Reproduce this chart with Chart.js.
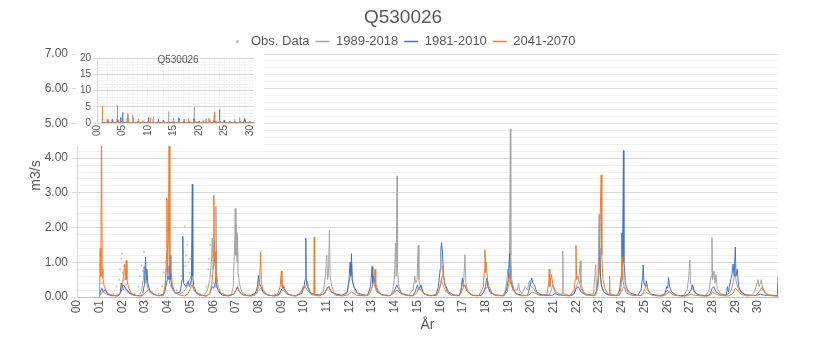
<!DOCTYPE html>
<html>
<head>
<meta charset="utf-8">
<script src="https://cdn.jsdelivr.net/npm/chart.js@4.4.0/dist/chart.umd.min.js"></script>
<style>
  html, body { margin: 0; padding: 0; background: #fff; }
  #wrap { position: relative; width: 815px; height: 338px; }
  #main { position: absolute; left: 0; top: 0; }
  #insetBox { position: absolute; left: 76px; top: 47px; width: 188px; height: 99px; background: #fff; }
  #inset { position: absolute; left: 0; top: 0; }
  #insetTitle { position: absolute; left: 21px; width: 162px; top: 7px; text-align: center;
    font: 10px "Liberation Sans", sans-serif; color: #595959; }
</style>
</head>
<body>
<div id="wrap">
  <canvas id="main" width="815" height="338"></canvas>
  <div id="insetBox">
    <canvas id="inset" width="188" height="99"></canvas>
    <div id="insetTitle">Q530026</div>
  </div>
</div>
<script>
// Daily flow at Q530026 (m3/s), years counted from 00, as [year, value]
const obsData = [
  [1.0,0.9],[1.02,1.2],[1.04,0.6],[1.08,0.4],[1.2,0.2],[1.6,0.1],[1.75,0.3],[1.85,0.5],[1.9,0.8],
  [1.95,1.1],[1.98,1.25],[2.02,0.7],[2.06,0.9],[2.1,0.5],[2.15,0.35],[2.3,0.15],[2.55,0.1],[2.7,0.3],
  [2.78,0.6],[2.85,0.9],[2.9,0.75],[2.95,1.3],[3.0,0.5],[3.1,0.3],[3.3,0.15],[3.6,0.1],[3.75,0.3],
  [3.82,0.7],[3.9,1.0],[3.94,1.3],[4.0,0.8],[4.05,1.1],[4.1,0.6],[4.2,0.3],[4.4,0.2],[4.6,0.6],
  [4.7,1.3],[4.74,2.03],[4.78,0.9],[4.82,1.2],[4.86,1.5],[4.9,1.0],[4.95,0.7],[5.0,1.1],[5.05,0.5],
  [5.15,0.25],[5.4,0.1],[5.7,0.3],[5.78,0.8],[5.82,1.1],[5.88,1.5],[5.92,0.6],[6.0,0.4],[6.1,0.3],[6.3,0.1]
];

const flow1989 = [
  [0.98,0.03],[1.05,0.1],[1.15,0.15],[1.3,0.08],[1.6,0.04],[1.85,0.05],
  [1.92,0.15],[1.98,0.35],[2.03,0.2],[2.1,0.3],[2.2,0.15],[2.4,0.06],[2.75,0.04],
  [2.85,0.2],[2.92,0.5],[2.96,0.9],[3.0,0.4],[3.05,0.5],[3.12,0.25],[3.25,0.1],[3.5,0.05],[3.8,0.05],
  [3.88,0.3],[3.95,1.27],[3.98,0.6],[4.03,0.9],[4.08,0.4],[4.15,0.3],[4.3,0.12],[4.5,0.08],[4.7,0.15],[4.85,0.3],[4.95,0.5],
  [5.03,0.6],[5.08,0.35],[5.15,0.2],[5.3,0.08],[5.6,0.04],
  [5.75,0.2],[5.85,0.5],[5.92,1.0],[5.96,1.7],[6.0,0.8],[6.05,1.6],[6.09,0.9],[6.12,2.6],[6.15,0.7],[6.22,0.3],[6.35,0.12],[6.6,0.05],[6.8,0.06],
  [6.88,0.3],[6.94,1.4],[6.97,2.55],[7.0,1.2],[7.02,2.08],[7.05,1.0],[7.07,1.85],[7.1,0.7],[7.15,0.4],[7.25,0.15],[7.45,0.06],[7.8,0.04],
  [7.9,0.08],[8.0,0.2],[8.08,0.25],[8.2,0.12],[8.4,0.05],[8.8,0.03],
  [8.9,0.05],[9.0,0.15],[9.1,0.2],[9.25,0.08],[9.6,0.03],
  [9.85,0.1],[9.95,0.3],[10.05,0.25],[10.15,0.45],[10.2,0.3],[10.3,0.1],[10.6,0.04],
  [10.85,0.15],[10.95,0.6],[11.0,1.2],[11.04,0.5],[11.08,0.7],[11.12,1.92],[11.15,0.6],[11.22,0.3],[11.35,0.1],[11.6,0.04],
  [11.9,0.1],[11.98,0.4],[12.05,0.6],[12.1,1.0],[12.15,0.4],[12.25,0.15],[12.5,0.05],[12.8,0.04],
  [12.9,0.1],[13.0,0.3],[13.05,0.45],[13.12,0.3],[13.2,0.15],[13.4,0.06],[13.8,0.04],
  [13.9,0.15],[13.98,0.5],[14.03,1.55],[14.06,0.6],[14.1,3.49],[14.12,0.8],[14.18,0.3],[14.3,0.1],[14.6,0.05],
  [14.8,0.2],[14.88,0.6],[14.92,0.4],[14.98,0.5],[15.03,1.49],[15.06,0.5],[15.12,0.3],[15.25,0.12],[15.5,0.05],[15.85,0.05],
  [15.95,0.2],[16.05,0.5],[16.12,0.35],[16.25,0.15],[16.5,0.05],[16.85,0.05],
  [16.92,0.2],[16.98,0.5],[17.03,0.4],[17.09,1.22],[17.13,0.4],[17.2,0.2],[17.4,0.06],[17.8,0.04],
  [17.92,0.15],[18.0,0.25],[18.1,0.3],[18.2,0.12],[18.4,0.05],[18.75,0.04],
  [18.85,0.15],[18.92,0.4],[18.98,0.8],[19.02,0.6],[19.06,1.6],[19.09,4.84],[19.11,1.2],[19.15,0.5],[19.25,0.2],[19.4,0.2],[19.45,0.4],[19.5,0.2],[19.6,0.1],[19.75,0.3],[19.85,0.2],
  [19.92,0.45],[20.0,0.3],[20.1,0.25],[20.25,0.1],[20.5,0.05],[20.8,0.05],
  [20.9,0.2],[20.95,0.35],[21.05,0.15],[21.2,0.06],[21.38,0.1],[21.4,1.32],[21.42,0.1],[21.7,0.04],
  [21.9,0.1],[22.0,0.3],[22.1,0.5],[22.17,1.04],[22.2,0.4],[22.3,0.15],[22.5,0.06],[22.75,0.1],[22.85,0.93],[22.88,0.2],
  [22.95,0.5],[23.0,2.38],[23.03,0.8],[23.08,0.4],[23.15,0.2],[23.3,0.08],[23.6,0.04],
  [23.9,0.05],[24.0,0.2],[24.1,0.3],[24.2,0.12],[24.4,0.05],[24.8,0.04],
  [24.9,0.05],[25.05,0.15],[25.15,0.1],[25.4,0.04],[25.8,0.03],
  [25.9,0.08],[26.0,0.2],[26.08,0.15],[26.25,0.06],[26.7,0.03],
  [26.88,0.2],[26.95,0.6],[27.0,1.06],[27.03,0.4],[27.08,0.3],[27.2,0.12],[27.4,0.05],[27.7,0.04],
  [27.85,0.2],[27.93,0.6],[27.97,1.71],[28.0,0.5],[28.06,0.75],[28.1,0.4],[28.15,0.65],[28.2,0.25],[28.35,0.1],[28.6,0.05],
  [28.8,0.15],[28.9,0.4],[28.98,0.7],[29.05,0.4],[29.15,0.2],[29.35,0.08],[29.7,0.05],
  [29.85,0.15],[29.95,0.4],[30.0,0.5],[30.05,0.3],[30.15,0.5],[30.2,0.2],[30.35,0.08],[30.88,0.03]
];

const flow1981 = [
  [0.98,0.02],[1.0,0.05],[1.05,0.2],[1.1,0.25],[1.15,0.15],[1.25,0.2],[1.35,0.08],[1.5,0.04],[1.8,0.03],
  [1.9,0.1],[1.95,0.4],[2.0,0.3],[2.05,0.35],[2.15,0.25],[2.3,0.12],[2.5,0.05],[2.8,0.03],
  [2.9,0.1],[2.98,0.4],[3.02,1.15],[3.05,0.5],[3.08,0.8],[3.12,0.4],[3.2,0.2],[3.35,0.08],[3.6,0.03],
  [3.85,0.1],[3.95,0.4],[4.0,0.6],[4.05,0.5],[4.1,1.2],[4.13,0.5],[4.2,0.25],[4.35,0.1],[4.55,0.15],[4.63,0.5],[4.66,1.75],[4.69,0.4],[4.8,0.3],[4.9,0.45],[4.95,0.3],
  [5.0,0.4],[5.04,0.5],[5.08,3.25],[5.1,0.6],[5.15,0.3],[5.25,0.15],[5.4,0.06],[5.7,0.03],
  [5.85,0.1],[5.95,0.3],[6.03,0.25],[6.08,0.4],[6.11,0.7],[6.14,0.3],[6.25,0.15],[6.4,0.05],[6.7,0.03],
  [6.9,0.08],[7.0,0.2],[7.07,0.3],[7.15,0.15],[7.3,0.06],[7.6,0.03],
  [7.85,0.1],[7.95,0.3],[7.99,0.62],[8.03,0.4],[8.1,0.3],[8.2,0.15],[8.4,0.06],[8.7,0.03],
  [8.9,0.08],[9.0,0.2],[9.08,0.3],[9.15,0.2],[9.3,0.08],[9.6,0.03],
  [9.9,0.1],[10.0,0.3],[10.05,0.5],[10.08,1.7],[10.1,0.5],[10.15,0.3],[10.25,0.15],[10.4,0.08],[10.7,0.05],
  [10.9,0.1],[11.0,0.25],[11.08,0.3],[11.2,0.15],[11.4,0.08],[11.7,0.05],
  [11.9,0.15],[11.98,0.5],[12.03,1.0],[12.06,0.6],[12.09,1.25],[12.12,0.5],[12.2,0.3],[12.35,0.12],[12.6,0.06],[12.8,0.05],
  [12.93,0.3],[13.0,0.88],[13.03,0.4],[13.08,0.6],[13.15,0.3],[13.25,0.15],[13.45,0.06],[13.8,0.04],
  [13.9,0.1],[14.0,0.2],[14.08,0.35],[14.15,0.25],[14.3,0.1],[14.5,0.05],[14.8,0.04],
  [14.9,0.15],[15.0,0.35],[15.05,0.2],[15.15,0.35],[15.25,0.12],[15.4,0.05],[15.8,0.04],
  [15.92,0.3],[16.0,0.8],[16.03,1.4],[16.06,1.57],[16.1,1.3],[16.15,0.6],[16.2,0.4],[16.35,0.15],[16.6,0.06],[16.85,0.04],
  [16.92,0.2],[16.98,0.55],[17.02,0.3],[17.08,0.35],[17.2,0.15],[17.4,0.05],[17.8,0.04],
  [17.92,0.15],[18.0,0.3],[18.05,0.55],[18.1,0.3],[18.2,0.15],[18.4,0.06],[18.8,0.04],
  [18.92,0.2],[19.0,0.5],[19.06,1.25],[19.1,0.5],[19.2,0.25],[19.35,0.1],[19.6,0.05],[19.85,0.05],
  [19.95,0.3],[20.03,0.55],[20.08,0.4],[20.15,0.35],[20.25,0.15],[20.45,0.06],[20.8,0.05],
  [20.95,0.05],[21.05,0.1],[21.2,0.06],[21.8,0.04],
  [21.9,0.1],[22.0,0.25],[22.08,0.3],[22.2,0.15],[22.4,0.06],[22.8,0.05],
  [22.9,0.2],[22.98,0.6],[23.03,1.4],[23.06,0.6],[23.1,0.35],[23.2,0.15],[23.4,0.06],[23.8,0.05],
  [23.9,0.2],[23.97,0.6],[24.0,1.85],[24.03,0.8],[24.07,4.22],[24.09,1.0],[24.12,0.85],[24.15,0.4],[24.25,0.2],[24.4,0.1],[24.7,0.05],
  [24.85,0.2],[24.92,0.6],[24.94,0.92],[24.98,0.4],[25.05,0.3],[25.08,0.45],[25.15,0.2],[25.3,0.08],[25.7,0.04],
  [25.9,0.1],[25.98,0.3],[26.02,0.25],[26.06,0.56],[26.1,0.3],[26.2,0.15],[26.4,0.05],[26.8,0.04],
  [26.95,0.1],[27.05,0.2],[27.12,0.35],[27.2,0.15],[27.4,0.06],[27.8,0.04],
  [27.9,0.1],[27.98,0.25],[28.05,0.3],[28.15,0.15],[28.35,0.06],[28.6,0.05],
  [28.65,0.3],[28.7,0.15],[28.8,0.5],[28.85,0.65],[28.9,0.95],[28.95,0.6],[29.0,1.44],[29.03,0.6],[29.08,0.8],[29.15,0.3],[29.25,0.15],[29.45,0.06],[29.8,0.04],
  [29.95,0.05],[30.1,0.08],[30.3,0.05],[30.85,0.04],[30.88,0.6]
];

const flow2041 = [
  [0.98,0.05],[1.0,0.3],[1.02,1.4],[1.05,0.6],[1.08,5.3],[1.11,0.8],[1.14,0.55],[1.2,0.3],[1.3,0.15],[1.45,0.07],[1.7,0.04],[1.85,0.08],
  [1.95,0.15],[2.0,0.35],[2.05,0.6],[2.1,0.95],[2.13,0.5],[2.17,1.05],[2.2,0.5],[2.28,0.25],[2.4,0.1],[2.6,0.04],[2.85,0.03],
  [2.95,0.08],[3.05,0.15],[3.15,0.2],[3.3,0.12],[3.5,0.05],[3.8,0.03],
  [3.88,0.3],[3.93,0.8],[3.96,2.85],[3.99,0.7],[4.03,1.8],[4.06,5.5],[4.09,0.9],[4.13,0.8],[4.2,0.35],[4.3,0.15],[4.5,0.06],[4.75,0.03],
  [4.9,0.1],[5.0,0.25],[5.05,0.35],[5.1,0.3],[5.2,0.15],[5.4,0.05],[5.7,0.03],
  [5.85,0.1],[5.95,0.4],[6.0,0.9],[6.03,2.93],[6.06,1.0],[6.09,1.3],[6.12,0.5],[6.2,0.25],[6.35,0.1],[6.6,0.04],
  [6.9,0.08],[7.0,0.2],[7.08,0.25],[7.2,0.12],[7.4,0.05],[7.7,0.03],
  [7.9,0.1],[8.0,0.3],[8.05,0.5],[8.09,1.3],[8.12,0.4],[8.2,0.2],[8.35,0.08],[8.6,0.03],
  [8.85,0.1],[8.95,0.3],[9.0,0.75],[9.03,0.3],[9.1,0.35],[9.2,0.15],[9.4,0.05],[9.7,0.03],
  [9.85,0.15],[9.95,0.25],[10.05,0.3],[10.15,0.2],[10.3,0.08],[10.43,0.05],[10.45,1.72],[10.47,0.05],[10.7,0.03],
  [10.9,0.1],[11.0,0.2],[11.1,0.3],[11.2,0.15],[11.4,0.05],[11.7,0.03],
  [11.9,0.05],[12.0,0.1],[12.1,0.15],[12.3,0.05],[12.7,0.03],
  [12.9,0.1],[13.0,0.3],[13.08,0.5],[13.13,0.8],[13.16,0.4],[13.25,0.2],[13.4,0.07],[13.7,0.03],
  [13.9,0.08],[14.0,0.15],[14.1,0.2],[14.25,0.1],[14.5,0.04],[14.8,0.03],
  [14.95,0.1],[15.05,0.25],[15.15,0.2],[15.3,0.08],[15.6,0.03],
  [15.9,0.1],[16.0,0.3],[16.08,0.6],[16.12,0.9],[16.18,0.4],[16.3,0.15],[16.5,0.05],[16.8,0.03],
  [16.9,0.1],[17.0,0.25],[17.08,0.35],[17.2,0.15],[17.4,0.05],[17.7,0.03],
  [17.9,0.3],[17.95,0.8],[17.97,1.36],[18.0,0.7],[18.03,1.0],[18.08,0.5],[18.15,0.3],[18.3,0.1],[18.5,0.04],[18.8,0.03],
  [18.95,0.15],[19.03,0.4],[19.07,0.7],[19.1,0.4],[19.2,0.2],[19.35,0.08],[19.6,0.03],
  [19.9,0.05],[20.05,0.15],[20.2,0.1],[20.4,0.04],[20.7,0.08],[20.78,0.4],[20.8,0.8],[20.83,0.3],[20.9,0.65],[20.95,0.4],[21.05,0.2],[21.2,0.1],[21.4,0.05],[21.7,0.03],
  [21.9,0.2],[21.95,0.5],[21.98,1.49],[22.01,0.5],[22.05,0.6],[22.12,0.45],[22.2,0.25],[22.35,0.1],[22.6,0.04],[22.85,0.05],
  [22.95,0.3],[23.0,1.0],[23.05,2.4],[23.09,3.52],[23.12,1.2],[23.17,0.5],[23.25,0.25],[23.4,0.08],[23.44,0.1],[23.46,0.6],[23.48,0.1],[23.7,0.04],[23.9,0.05],
  [23.97,0.3],[24.01,1.15],[24.04,0.5],[24.1,0.3],[24.2,0.2],[24.3,0.1],[24.5,0.04],[24.85,0.05],
  [24.95,0.12],[25.05,0.3],[25.1,0.35],[25.18,0.15],[25.35,0.05],[25.7,0.03],
  [25.9,0.05],[26.0,0.1],[26.1,0.15],[26.3,0.05],[26.7,0.02],
  [26.9,0.04],[27.05,0.08],[27.2,0.05],[27.7,0.02],
  [27.9,0.05],[28.0,0.15],[28.1,0.1],[28.3,0.04],[28.7,0.03],
  [28.9,0.1],[29.0,0.25],[29.1,0.2],[29.25,0.08],[29.5,0.03],
  [29.9,0.05],[30.05,0.15],[30.2,0.3],[30.25,0.2],[30.4,0.05],[30.88,0.02]
];

const seriesNames = ['Obs. Data', '1989-2018', '1981-2010', '2041-2070'];
const seriesColors = ['#C9C9C9', '#A5A5A5', '#4472C4', '#ED7D31'];

const FONT = '"Liberation Sans", Arial, sans-serif';
const TEXT = '#595959';
const X_MAX = 30.88;

function toPoints(arr) {
  return arr.map(([x, y]) => ({ x, y }));
}

function yearLabel(v) {
  return String(Math.round(v)).padStart(2, '0');
}

function isWhole(v, step) {
  return Math.abs(v / step - Math.round(v / step)) < 1e-6;
}

// small dot used as the legend marker of the observations
const obsMarker = document.createElement('canvas');
obsMarker.width = 5;
obsMarker.height = 5;
(function () {
  const c = obsMarker.getContext('2d');
  c.fillStyle = '#BFBFBF';
  c.beginPath();
  c.arc(2.5, 2.5, 1.5, 0, Math.PI * 2);
  c.fill();
})();

// the legend reserves a bit more room below itself than wanted; trim it
const trimLegend = {
  id: 'trimLegend',
  afterInit(chart) {
    const lg = chart.legend;
    if (!lg) return;
    const fit = lg.fit.bind(lg);
    lg.fit = function () {
      fit();
      this.height = Math.max(0, this.height - 4);
    };
  }
};

function buildDatasets(lineWidth, dotRadius) {
  const lines = [flow1989, flow1981, flow2041];
  const sets = [{
    label: seriesNames[0],
    data: toPoints(obsData),
    showLine: false,
    pointRadius: dotRadius,
    pointBackgroundColor: seriesColors[0],
    pointBorderWidth: 0,
    borderColor: seriesColors[0],
    backgroundColor: seriesColors[0],
    order: 3
  }];
  lines.forEach((arr, i) => {
    sets.push({
      label: seriesNames[i + 1],
      data: toPoints(arr),
      borderColor: seriesColors[i + 1],
      backgroundColor: seriesColors[i + 1],
      borderWidth: lineWidth,
      pointRadius: 0,
      tension: 0,
      order: 2 - i
    });
  });
  return sets;
}

// main chart
new Chart(document.getElementById('main'), {
  type: 'line',
  data: { datasets: buildDatasets(1, 1.1) },
  plugins: [trimLegend],
  options: {
    responsive: false,
    animation: false,
    events: [],
    layout: { padding: { left: 28, right: 37, top: 0, bottom: 0 } },
    plugins: {
      tooltip: { enabled: false },
      title: {
        display: true,
        text: 'Q530026',
        color: TEXT,
        font: { family: FONT, size: 19, weight: 'normal', lineHeight: 1 },
        padding: { top: 8, bottom: 2 }
      },
      legend: {
        reverse: true,
        labels: {
          color: TEXT,
          font: { family: FONT, size: 13, lineHeight: 1 },
          usePointStyle: true,
          pointStyleWidth: 14,
          boxHeight: 8,
          padding: 6,
          generateLabels(chart) {
            const items = Chart.defaults.plugins.legend.labels.generateLabels(chart);
            items.forEach(it => {
              if (it.text === seriesNames[0]) {
                it.pointStyle = obsMarker;
              } else {
                it.pointStyle = 'line';
                it.lineWidth = 1.5;
              }
            });
            return items;
          }
        }
      }
    },
    scales: {
      x: {
        type: 'linear',
        min: 0,
        max: X_MAX,
        afterFit(scale) { scale.height = 41; },
        grid: { drawOnChartArea: false, drawTicks: false },
        border: { display: true, color: '#BFBFBF' },
        ticks: {
          stepSize: 1,
          autoSkip: false,
          includeBounds: false,
          maxRotation: 90,
          minRotation: 90,
          padding: 3,
          color: TEXT,
          font: { family: FONT, size: 12 },
          callback: v => yearLabel(v)
        },
        title: {
          display: true,
          text: 'År',
          color: TEXT,
          font: { family: FONT, size: 14 },
          padding: { top: 0, bottom: 4 }
        }
      },
      y: {
        min: 0,
        max: 7,
        afterFit(scale) { scale.width = 49; },
        grid: {
          color: ctx => isWhole(ctx.tick.value, 1) ? '#D9D9D9' : '#EFEFEF',
          tickColor: ctx => isWhole(ctx.tick.value, 1) ? '#D9D9D9' : 'rgba(0,0,0,0)',
          tickLength: 5
        },
        border: { display: true, color: '#D9D9D9' },
        ticks: {
          stepSize: 0.2,
          autoSkip: false,
          padding: 4,
          color: TEXT,
          font: { family: FONT, size: 12 },
          callback: v => isWhole(v, 1) ? v.toFixed(2) : ''
        },
        title: {
          display: true,
          text: 'm3/s',
          color: TEXT,
          font: { family: FONT, size: 14 },
          padding: { top: 0, bottom: 0 }
        }
      }
    }
  }
});

// small overview chart on the full 0-20 range
new Chart(document.getElementById('inset'), {
  type: 'line',
  data: { datasets: buildDatasets(0.8, 0.5) },
  options: {
    responsive: false,
    animation: false,
    events: [],
    layout: { padding: { left: 0, right: 5, top: 11, bottom: 0 } },
    plugins: { legend: { display: false }, tooltip: { enabled: false }, title: { display: false } },
    scales: {
      x: {
        type: 'linear',
        min: 0,
        max: X_MAX,
        afterFit(scale) { scale.height = 23; },
        grid: { color: '#F4F4F4', drawTicks: false },
        border: { display: true, color: '#D9D9D9' },
        ticks: {
          stepSize: 1,
          autoSkip: false,
          includeBounds: false,
          maxRotation: 90,
          minRotation: 90,
          padding: 2,
          color: TEXT,
          font: { family: FONT, size: 10 },
          callback: v => isWhole(v, 5) ? yearLabel(v) : ''
        }
      },
      y: {
        min: 0,
        max: 20,
        afterFit(scale) { scale.width = 21; },
        grid: {
          color: ctx => isWhole(ctx.tick.value, 5) ? '#D9D9D9' : '#F2F2F2',
          tickColor: ctx => isWhole(ctx.tick.value, 5) ? '#D9D9D9' : 'rgba(0,0,0,0)',
          tickLength: 4
        },
        border: { display: true, color: '#D9D9D9' },
        ticks: {
          stepSize: 1,
          autoSkip: false,
          padding: 2,
          color: TEXT,
          font: { family: FONT, size: 10 },
          callback: v => isWhole(v, 5) ? String(v) : ''
        }
      }
    }
  }
});
</script>
</body>
</html>
